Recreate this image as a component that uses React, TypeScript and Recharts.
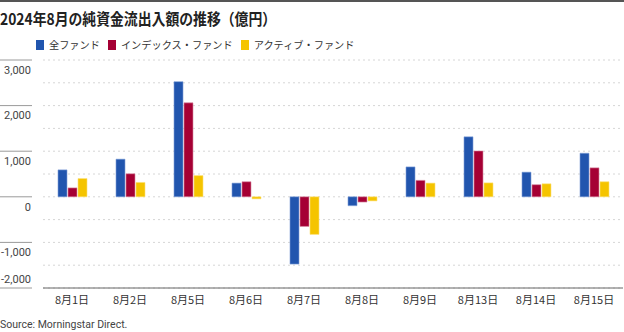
import {
  BarChart,
  Bar,
  XAxis,
  YAxis,
  CartesianGrid
} from 'recharts';

const dates = ['8月1日', '8月2日', '8月5日', '8月6日', '8月7日', '8月8日', '8月9日', '8月13日', '8月14日', '8月15日'];
const allFunds = [590, 825, 2525, 300, -1475, -195, 655, 1315, 540, 955];
const indexFunds = [195, 505, 2060, 330, -650, -115, 360, 1005, 265, 635];
const activeFunds = [400, 315, 465, -45, -825, -90, 300, 305, 285, 330];
// 500刻みで点線グリッド、ラベルは1000刻みのみ
const yTicks = [-2000, -1500, -1000, -500, 0, 500, 1000, 1500, 2000, 2500, 3000];

const series = [
  { key: 'all', name: '全ファンド', color: '#2155ae', edge: '#7f9fd6' },
  { key: 'index', name: 'インデックス・ファンド', color: '#a50034', edge: '#d78aa3' },
  { key: 'active', name: 'アクティブ・ファンド', color: '#f5c400', edge: '#fbe07a' }
];

const FONT = 'Roboto, "Noto Sans CJK JP", sans-serif';
const JP = '"Noto Sans CJK JP", sans-serif';

// y軸ラベルは目盛り線の下に置く（最下段だけ上）
function YTick({ y, payload }: any) {
  if (payload.value % 1000 !== 0) return <g />;
  const last = payload.value === -2000;
  return (
    <g>
      <line x1={0} x2={32} y1={y} y2={y} stroke="#9a9a9a" strokeWidth={1} />
      <text x={31} y={last ? y - 9 : y + 10} dy="0.35em" textAnchor="end" fontSize={11} fill="#444" fontFamily={FONT}>
        {payload.value.toLocaleString('en-US')}
      </text>
    </g>
  );
}

export default function App() {
  const data = dates.map((d, i) => ({ date: d, all: allFunds[i], index: indexFunds[i], active: activeFunds[i] }));

  return (
    <div style={{ position: 'fixed', left: 0, top: 0, width: 624, height: 332, background: '#fff', fontFamily: FONT }}>
      <BarChart
        width={624}
        height={332}
        data={data}
        margin={{ top: 60, right: 1, left: 0, bottom: 14 }}
        barGap={1}
        barCategoryGap={15}
      >
        <CartesianGrid vertical={false} stroke="#d6d6d6" strokeDasharray="2 3" />
        <XAxis
          dataKey="date"
          tickLine={false}
          axisLine={{ stroke: '#666' }}
          tick={{ fontSize: 11, fill: '#333', fontFamily: JP }}
          height={30}
          interval={0}
        />
        {/* 上端の実線用 */}
        <XAxis
          xAxisId="top"
          dataKey="date"
          orientation="top"
          height={0}
          tick={false}
          tickLine={false}
          axisLine={{ stroke: '#666', strokeWidth: 1 }}
        />
        <YAxis
          width={43}
          domain={[-2000, 3000]}
          ticks={yTicks}
          interval={0}
          axisLine={false}
          tickLine={false}
          tick={<YTick />}
        />
        {series.map(s => (
          <Bar
            key={s.key}
            dataKey={s.key}
            name={s.name}
            fill={s.color}
            stroke={s.edge}
            strokeWidth={0.6}
            isAnimationActive={false}
          />
        ))}
      </BarChart>

      <div style={{ position: 'absolute', left: 0, top: 0, width: 624, height: 2, background: '#555' }} />
      <div
        style={{
          position: 'absolute',
          left: 0,
          top: 6,
          fontSize: 16,
          fontWeight: 700,
          color: '#222',
          fontFamily: JP,
          whiteSpace: 'nowrap',
          transform: 'scaleX(0.865)',
          transformOrigin: 'left top'
        }}
      >
        2024年8月の純資金流出入額の推移（億円）
      </div>
      <div style={{ position: 'absolute', left: 36, top: 37, display: 'flex', alignItems: 'center', fontSize: 10.2, color: '#333', fontFamily: JP }}>
        {series.map(s => (
          <div key={s.key} style={{ display: 'flex', alignItems: 'center', marginRight: 8 }}>
            <span style={{ display: 'inline-block', width: 8, height: 10, background: s.color, marginRight: 5 }} />
            <span>{s.name}</span>
          </div>
        ))}
      </div>
      <div style={{ position: 'absolute', left: 0, top: 318, fontSize: 10.5, color: '#444', whiteSpace: 'nowrap' }}>
        Source: Morningstar Direct.
      </div>
    </div>
  );
}
